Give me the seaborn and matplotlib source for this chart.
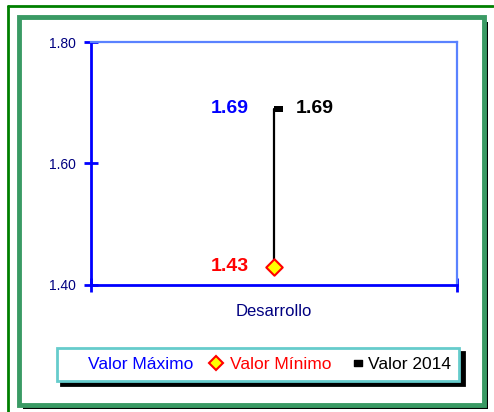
import pandas as pd
import seaborn as sns
import matplotlib
matplotlib.use('Agg')
import matplotlib.pyplot as plt
from matplotlib.lines import Line2D
from matplotlib.patches import Rectangle
from matplotlib.path import Path

# data
categories = ['Desarrollo']
valor_maximo = [1.69]
valor_minimo = [1.43]
valor_2014 = [1.69]
y_ticks = [1.40, 1.60, 1.80]

sns.set_style('white')
plt.rcParams['font.family'] = ['Liberation Sans', 'DejaVu Sans']

W, H = 494, 412
fig = plt.figure(figsize=(W / 100, H / 100), dpi=100)
fig.patch.set_facecolor('white')

def px(x0, y0, x1, y1):
    # pixel box (top-left origin) -> figure fraction rect
    return (x0 / W, 1 - y1 / H, (x1 - x0) / W, (y1 - y0) / H)

# outer thin green line and inner framed panel with black shadow
fig.add_artist(Line2D([8 / W, 493 / W], [1 - 6 / H, 1 - 6 / H], color='#008000', lw=2))
fig.add_artist(Line2D([8 / W, 8 / W], [1 - 6 / H, 0], color='#008000', lw=2))
fig.add_artist(Rectangle(px(23, 22, 488, 409)[:2], *px(23, 22, 488, 409)[2:],
                         transform=fig.transFigure, facecolor='black', edgecolor='none', zorder=0))
fig.add_artist(Rectangle(px(19, 17, 484, 405)[:2], *px(19, 17, 484, 405)[2:],
                         transform=fig.transFigure, facecolor='white', edgecolor='#3A9A64',
                         lw=3.5, zorder=0.5))

ax = fig.add_axes([91 / W, 1 - 285 / H, (457 - 91) / W, (285 - 42) / H])
ax.set_facecolor('none')
ax.set_zorder(2)

df = pd.DataFrame({'cat': categories, 'max': valor_maximo,
                   'min': valor_minimo, 'v2014': valor_2014})
line_df = pd.DataFrame({'cat': categories * 2, 'val': valor_minimo + valor_maximo})

sns.lineplot(data=line_df, x='cat', y='val', estimator=None, sort=False,
             color='black', lw=1.6, ax=ax, zorder=2)
sns.scatterplot(data=df, x='cat', y='min', marker='D', s=70, color='#FFFF00',
                edgecolor='#FF0000', linewidth=1.5, ax=ax, zorder=4)
# Excel style dash marker, sitting to the right of the point
dash = Path([(0, -0.5), (1.6, -0.5), (1.6, 0.5), (0, 0.5), (0, -0.5)],
            [Path.MOVETO, Path.LINETO, Path.LINETO, Path.LINETO, Path.CLOSEPOLY])
sns.scatterplot(data=df, x='cat', y='v2014', marker=dash, s=170, color='black',
                edgecolor='black', linewidth=0, ax=ax, zorder=3)

for i, c in enumerate(categories):
    ax.annotate(f'{valor_maximo[i]:.2f}', (i, valor_maximo[i]), xytext=(-18, 0),
                textcoords='offset points', ha='right', va='center',
                color='#0000FF', fontsize=14, fontweight='bold')
    ax.annotate(f'{valor_2014[i]:.2f}', (i, valor_2014[i]), xytext=(16, 0),
                textcoords='offset points', ha='left', va='center',
                color='black', fontsize=14, fontweight='bold')
    ax.annotate(f'{valor_minimo[i]:.2f}', (i, valor_minimo[i]), xytext=(-18, 0),
                textcoords='offset points', ha='right', va='center',
                color='#FF0000', fontsize=14, fontweight='bold')

ax.set_xlim(-0.5, len(categories) - 0.5)
ax.set_ylim(1.40, 1.80)
ax.set_yticks(y_ticks)
ax.set_yticklabels([f'{t:.2f}' for t in y_ticks], color='#000080', fontsize=10)
ax.set_xticks(range(len(categories)))
ax.set_xticklabels(categories, color='#000080', fontsize=12)
ax.set_xticks([k - 0.5 for k in range(len(categories) + 1)], minor=True)
ax.tick_params(axis='x', which='major', length=0, pad=14)
ax.tick_params(axis='x', which='minor', direction='inout', length=10, width=2,
               color='#0000FF', bottom=True)
ax.tick_params(axis='y', direction='inout', length=10, width=2, color='#0000FF',
               left=True, pad=6)
ax.set_xlabel('')
ax.set_ylabel('')
for side in ['left', 'bottom']:
    ax.spines[side].set_color('#0000FF')
    ax.spines[side].set_linewidth(2)
for side in ['top', 'right']:
    ax.spines[side].set_color('#5A82FF')
    ax.spines[side].set_linewidth(1.6)
    ax.spines[side].set_visible(True)

handles = [
    Line2D([], [], linestyle='none', marker=None),
    Line2D([], [], linestyle='none', marker='D', markersize=7, markerfacecolor='#FFFF00',
           markeredgecolor='#FF0000', markeredgewidth=1.5),
    Line2D([], [], linestyle='none', marker=dash, markersize=12, color='black'),
]
leg = fig.legend(handles, ['Valor Máximo', 'Valor Mínimo', 'Valor 2014'],
                 loc='center', bbox_to_anchor=((57 + 459) / 2 / W, 1 - 364.5 / H),
                 ncol=3, fontsize=12.5, frameon=True, fancybox=False,
                 edgecolor='#66CCCC', handlelength=1.0, handletextpad=0.3,
                 columnspacing=0.8, borderpad=0.5,
                 shadow={'ox': 3, 'oy': -3, 'facecolor': 'black',
                         'edgecolor': 'black', 'alpha': 1})
leg.get_frame().set_linewidth(2)
for txt, col in zip(leg.get_texts(), ['#0000FF', '#FF0000', 'black']):
    txt.set_color(col)

fig.savefig('out.png', dpi=100)
